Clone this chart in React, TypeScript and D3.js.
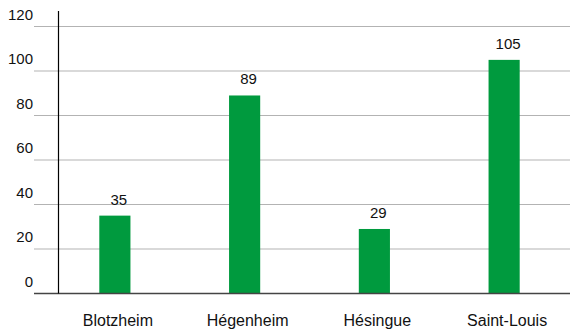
import React from 'react'
import * as d3 from 'd3'

const towns = ['Blotzheim', 'Hégenheim', 'Hésingue', 'Saint-Louis']
const counts = [35, 89, 29, 105]
const yTicks = [0, 20, 40, 60, 80, 100, 120]

const width = 570
const height = 329

const App = () => {
  const x = d3
    .scaleBand<string>()
    .domain(towns)
    .range([50, 569])
    .paddingInner(0.76)
    .paddingOuter(0.38)

  const y = d3.scaleLinear().domain([0, 120]).range([293.5, 26.5])

  const font = 'Liberation Sans, Arial, Helvetica, sans-serif'

  return (
    <svg
      width={width}
      height={height}
      viewBox={`0,0,${width},${height}`}
      style={{ position: 'absolute', left: 0, top: 0, display: 'block', background: '#fff' }}
      fontFamily={font}
    >
      {/* gridlines + y labels */}
      {yTicks.map(t => (
        <g key={t}>
          {t > 0 && (
            <line x1={34} x2={width} y1={y(t)} y2={y(t)} stroke="#b3b3b3" strokeWidth={1.2} />
          )}
          <text x={33} y={y(t) - 7} textAnchor="end" fontSize={15} fill="#111">
            {t}
          </text>
        </g>
      ))}

      {/* bars */}
      {towns.map((d, i) => (
        <g key={d}>
          <rect
            x={x(d)}
            y={y(counts[i])}
            width={x.bandwidth()}
            height={y(0) - y(counts[i])}
            fill="#009a3e"
          />
          <text
            x={(x(d) as number) + x.bandwidth() / 2 + 4}
            y={y(counts[i]) - 11}
            textAnchor="middle"
            fontSize={15}
            fill="#111"
          >
            {counts[i]}
          </text>
          <text
            x={(x(d) as number) + x.bandwidth() / 2 + 3}
            y={326}
            textAnchor="middle"
            fontSize={16}
            fill="#111"
          >
            {d}
          </text>
        </g>
      ))}

      {/* axes */}
      <line x1={34} x2={width} y1={y(0)} y2={y(0)} stroke="#444" strokeWidth={1.5} />
      <line x1={58.5} x2={58.5} y1={11} y2={y(0)} stroke="#000" strokeWidth={1.2} />
    </svg>
  )
}

export default App
